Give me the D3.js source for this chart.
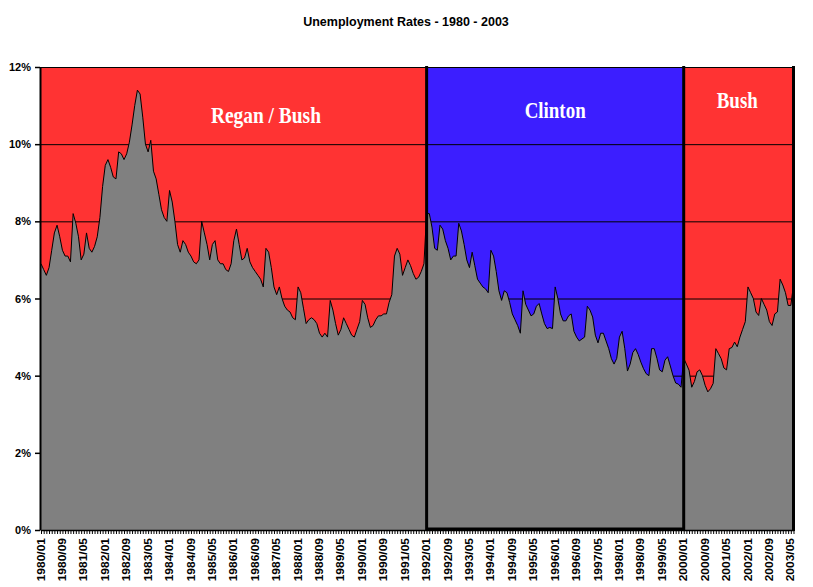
<!DOCTYPE html>
<html><head><meta charset="utf-8">
<script src="https://cdn.jsdelivr.net/npm/d3@7"></script>
<style>body{margin:0;background:#fff}svg{display:block}</style>
</head><body>
<svg id="chart" width="813" height="587"></svg>
<script>
// ---------------- data ----------------
const title = "Unemployment Rates - 1980 - 2003";
const startYear = 1980;
// monthly unemployment rate (%), not seasonally adjusted, 1980/01 .. 2003/06
const rates = [
  6.9, 6.75, 6.6, 6.8, 7.25, 7.7, 7.9, 7.6, 7.25, 7.1, 7.1, 6.95,      // 1980
  8.2, 7.95, 7.6, 7.0, 7.15, 7.7, 7.3, 7.2, 7.35, 7.6, 8.1, 8.9,       // 1981
  9.45, 9.6, 9.4, 9.15, 9.1, 9.8, 9.75, 9.6, 9.75, 10.05, 10.5, 11.0,  // 1982
  11.4, 11.3, 10.7, 10.0, 9.8, 10.1, 9.3, 9.1, 8.7, 8.3, 8.1, 8.0,     // 1983
  8.8, 8.5, 8.0, 7.4, 7.2, 7.5, 7.4, 7.2, 7.1, 6.95, 6.9, 7.0,         // 1984
  8.0, 7.7, 7.4, 7.0, 7.4, 7.5, 7.0, 6.9, 6.9, 6.75, 6.7, 6.9,         // 1985
  7.5, 7.8, 7.4, 7.0, 7.05, 7.3, 6.95, 6.8, 6.7, 6.6, 6.5, 6.3,        // 1986
  7.3, 7.2, 6.8, 6.3, 6.1, 6.3, 6.0, 5.8, 5.7, 5.65, 5.5, 5.45,        // 1987
  6.3, 6.15, 5.75, 5.35, 5.45, 5.5, 5.45, 5.35, 5.1, 5.0, 5.1, 5.0,    // 1988
  5.95, 5.7, 5.35, 5.05, 5.2, 5.5, 5.35, 5.2, 5.05, 5.0, 5.2, 5.4,     // 1989
  5.95, 5.85, 5.5, 5.25, 5.3, 5.45, 5.55, 5.55, 5.6, 5.6, 5.9, 6.1,    // 1990
  7.1, 7.3, 7.15, 6.6, 6.8, 7.0, 6.85, 6.65, 6.5, 6.55, 6.7, 6.9,      // 1991
  8.2, 8.2, 7.85, 7.3, 7.25, 7.9, 7.8, 7.5, 7.3, 7.0, 7.1, 7.1,        // 1992
  7.95, 7.75, 7.4, 7.0, 6.8, 7.2, 6.85, 6.5, 6.4, 6.3, 6.25, 6.15,     // 1993
  7.25, 7.1, 6.7, 6.2, 5.95, 6.2, 6.15, 5.9, 5.6, 5.45, 5.3, 5.1,      // 1994
  6.2, 5.85, 5.7, 5.55, 5.6, 5.8, 5.87, 5.6, 5.35, 5.22, 5.25, 5.22,   // 1995
  6.3, 6.0, 5.6, 5.42, 5.42, 5.55, 5.6, 5.15, 5.0, 4.9, 4.95, 5.0,     // 1996
  5.8, 5.7, 5.52, 5.05, 4.85, 5.1, 5.1, 4.9, 4.7, 4.44, 4.3, 4.45,     // 1997
  5.0, 5.15, 4.7, 4.12, 4.3, 4.6, 4.7, 4.55, 4.35, 4.18, 4.05, 4.0,    // 1998
  4.7, 4.7, 4.45, 4.15, 4.1, 4.4, 4.49, 4.25, 4.0, 3.81, 3.78, 3.7,    // 1999
  4.45, 4.3, 4.14, 3.7, 3.85, 4.1, 4.15, 4.0, 3.75, 3.58, 3.66, 3.8,   // 2000
  4.7, 4.57, 4.44, 4.2, 4.15, 4.7, 4.73, 4.87, 4.75, 5.0, 5.2, 5.4,    // 2001
  6.3, 6.15, 6.0, 5.65, 5.56, 6.0, 5.85, 5.7, 5.4, 5.3, 5.6, 5.65,     // 2002
  6.5, 6.35, 6.15, 5.82, 5.82, 6.35                                    // 2003
];
const yTicks = [0, 2, 4, 6, 8, 10, 12];
const xTickLabels = [
  "1980/01","1980/09","1981/05","1982/01","1982/09","1983/05","1984/01","1984/09",
  "1985/05","1986/01","1986/09","1987/05","1988/01","1988/09","1989/05","1990/01",
  "1990/09","1991/05","1992/01","1992/09","1993/05","1994/01","1994/09","1995/05",
  "1996/01","1996/09","1997/05","1998/01","1998/09","1999/05","2000/01","2000/09",
  "2001/05","2002/01","2002/09","2003/05"
];
const regionNames  = ["Regan / Bush", "Clinton", "Bush"];
const regionStarts = ["1980/01", "1992/01", "2000/01"];
const regionEnds   = ["1992/01", "2000/01", "2003/06"];
const regionLabelAt = ["1987/01", "1996/01", "2001/09"];

// ---------------- styles / layout ----------------
const regionColors = ["#FF3333", "#3C1EFF", "#FF3333"];
const regionLabelLevel = [10.56, 10.69, 10.93];   // baseline, in % units
const regionLabelWidth = [110, 61, 41];
const W = 813, H = 587;
const plot = {left: 41, right: 793.5, top: 67, bottom: 530};

const months = rates.map((d, i) =>
  (startYear + Math.floor(i / 12)) + "/" + String(i % 12 + 1).padStart(2, "0"));
const series = months.map((m, i) => ({month: m, value: rates[i]}));

const svg = d3.select("#chart");
const x = d3.scalePoint().domain(months).range([plot.left, plot.right]);
const y = d3.scaleLinear().domain([0, 12]).range([plot.bottom, plot.top]);

// title
svg.append("text")
  .attr("x", 406).attr("y", 26)
  .attr("text-anchor", "middle")
  .attr("font-family", "'Liberation Sans', Arial, sans-serif")
  .attr("font-weight", "bold").attr("font-size", 12.5)
  .text(title);

// region backgrounds
const regions = regionNames.map((n, i) => ({
  name: n, start: regionStarts[i], end: regionEnds[i],
  color: regionColors[i], at: regionLabelAt[i],
  level: regionLabelLevel[i], width: regionLabelWidth[i]
}));
svg.append("g").selectAll("rect").data(regions).join("rect")
  .attr("x", d => x(d.start))
  .attr("width", d => x(d.end) - x(d.start))
  .attr("y", y(12)).attr("height", y(0) - y(12))
  .attr("fill", d => d.color);

// gridlines
svg.append("g").selectAll("line").data(yTicks.filter(t => t > 0)).join("line")
  .attr("x1", plot.left - 1).attr("x2", plot.right + 1.5)
  .attr("y1", d => y(d) + 0.5).attr("y2", d => y(d) + 0.5)
  .attr("stroke", "#000").attr("stroke-width", 1);

// unemployment area
const area = d3.area().x(d => x(d.month)).y0(y(0)).y1(d => y(d.value));
const line = d3.line().x(d => x(d.month)).y(d => y(d.value));
svg.append("path").datum(series).attr("d", area).attr("fill", "#808080");
svg.append("path").datum(series).attr("d", line)
  .attr("fill", "none").attr("stroke", "#000").attr("stroke-width", 1);

// region boundary lines
const bounds = [regionStarts[1], regionStarts[2], regionEnds[2]];
svg.append("g").selectAll("line").data(bounds).join("line")
  .attr("x1", d => x(d)).attr("x2", d => x(d))
  .attr("y1", y(12) - 1).attr("y2", y(0) + 1)
  .attr("stroke", "#000").attr("stroke-width", 3);
// bottom border of the Clinton region
svg.append("line")
  .attr("x1", x(regionStarts[1])).attr("x2", x(regionEnds[1]))
  .attr("y1", y(0) - 1).attr("y2", y(0) - 1)
  .attr("stroke", "#000").attr("stroke-width", 3);

// region labels
svg.append("g").selectAll("text").data(regions).join("text")
  .attr("x", d => x(d.at)).attr("y", d => y(d.level))
  .attr("text-anchor", "middle")
  .attr("font-family", "'Liberation Serif', 'Times New Roman', serif")
  .attr("font-weight", "bold").attr("font-size", 24)
  .attr("fill", "#fff")
  .attr("textLength", d => d.width).attr("lengthAdjust", "spacingAndGlyphs")
  .text(d => d.name);

// y axis
const yAxis = svg.append("g").attr("transform", `translate(${plot.left - 1},0)`)
  .call(d3.axisLeft(y).tickValues(yTicks).tickFormat(d => d + "%")
        .tickSize(5).tickSizeOuter(0).tickPadding(4));
yAxis.select(".domain").attr("stroke-width", 2);
yAxis.selectAll(".tick line").attr("stroke-width", 1.5);
yAxis.selectAll("text")
  .attr("font-family", "'Liberation Sans', Arial, sans-serif")
  .attr("font-weight", "bold").attr("font-size", 11).attr("fill", "#000");

// x axis: monthly tick marks
const xAxis = svg.append("g").attr("transform", `translate(0,${plot.bottom})`)
  .call(d3.axisBottom(x).tickValues(months).tickFormat("")
        .tickSize(4).tickSizeOuter(0));
xAxis.select(".domain").attr("stroke-width", 1.5);
xAxis.selectAll(".tick line").attr("stroke-width", 1);

// x tick labels
svg.append("g").selectAll("text").data(xTickLabels).join("text")
  .attr("transform", d => `translate(${x(d)},538) rotate(-90) scale(1,0.84)`)
  .attr("text-anchor", "end").attr("dy", "0.35em")
  .attr("font-family", "'Liberation Sans', Arial, sans-serif")
  .attr("font-weight", "bold").attr("font-size", 12)
  .text(d => d);
</script>
</body></html>
